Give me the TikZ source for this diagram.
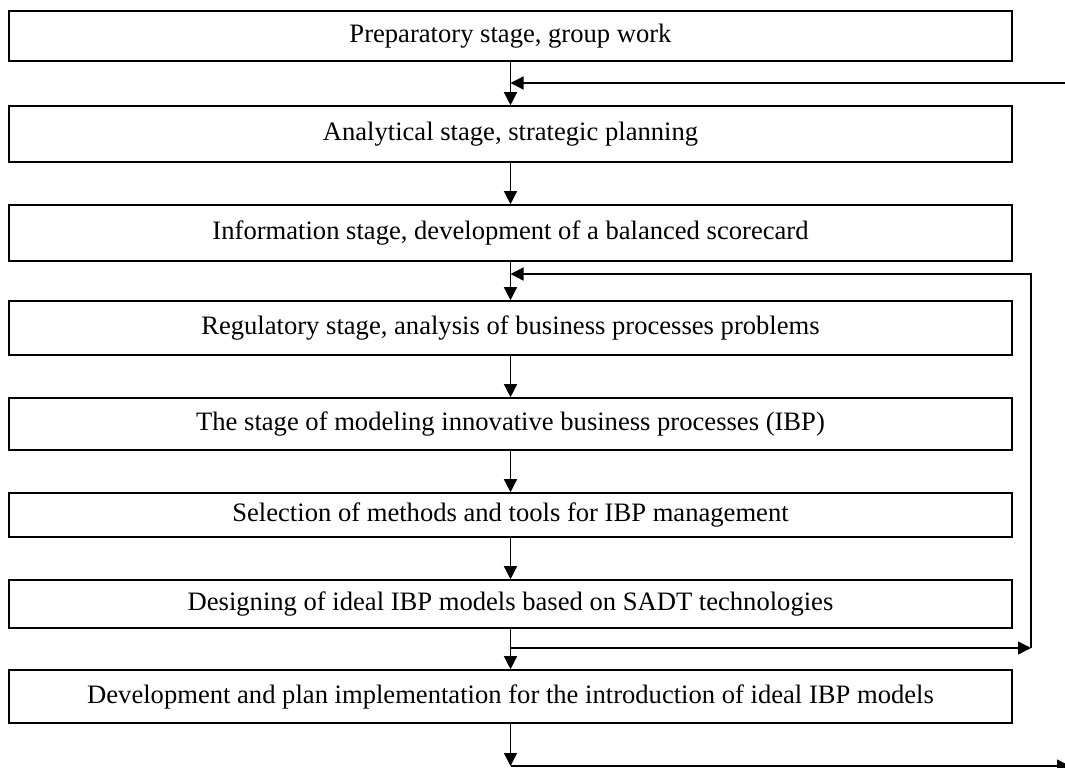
\documentclass[tikz,border=0pt]{standalone}
\usepackage{fontspec}
\setmainfont{Liberation Serif}
\usetikzlibrary{arrows.meta}

\tikzstyle{stagebox} = [draw,rectangle,line width=0.8pt,inner sep=0pt,minimum width=501.5pt,font=\fontsize{13.3}{15}\selectfont]
\tikzstyle{flow} = [line width=0.65pt,-{Triangle[width=6.5pt,length=6.5pt]}]

\begin{document}
\begin{tikzpicture}[x=0.5pt,y=-0.5pt]
	\useasboundingbox (0,0) rectangle (1065,767);

	\node[stagebox,minimum height=25pt] (s1) at (510.5,36) {Preparatory stage, group work};
	\node[stagebox,minimum height=28pt] (s2) at (510.5,134) {Analytical stage, strategic planning};
	\node[stagebox,minimum height=28pt] (s3) at (510.5,233) {Information stage, development of a balanced scorecard};
	\node[stagebox,minimum height=27pt] (s4) at (510.5,328) {Regulatory stage, analysis of business processes problems};
	\node[stagebox,minimum height=26pt] (s5) at (510.5,424) {The stage of modeling innovative business processes (IBP)};
	\node[stagebox,minimum height=22pt] (s6) at (510.5,515) {Selection of methods and tools for IBP management};
	\node[stagebox,minimum height=24pt] (s7) at (510.5,604) {Designing of ideal IBP models based on SADT technologies};
	\node[stagebox,minimum height=26.5pt] (s8) at (510.5,696.5) {Development and plan implementation for the introduction of ideal IBP models};

	% junctions and free ends of the return lines
	\coordinate (j1) at (510.5,83);
	\coordinate (r1) at (1065,83);
	\coordinate (j2) at (510.5,274);
	\coordinate (j3) at (510.5,648);
	\coordinate (r3) at (1031,648);
	\coordinate (j4) at (510.5,766);
	\coordinate (r4) at (1070,766);

	\draw[flow] (s1) -- (s2);
	\draw[flow] (s2) -- (s3);
	\draw[flow] (s3) -- (s4);
	\draw[flow] (s4) -- (s5);
	\draw[flow] (s5) -- (s6);
	\draw[flow] (s6) -- (s7);
	\draw[flow] (s7) -- (s8);
	\draw[flow] (s8) -- (j4);

	\draw[flow] (r1) -- (j1);
	\draw[flow] (j3) -- (r3);
	\draw[flow] (r3) |- (j2);
	\draw[flow] (j4) -- (r4);
\end{tikzpicture}
\end{document}
